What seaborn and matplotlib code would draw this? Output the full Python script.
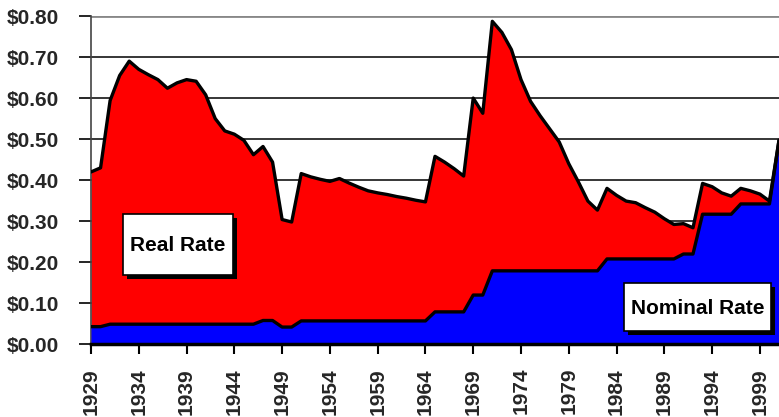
import matplotlib
matplotlib.use("Agg")
import matplotlib.pyplot as plt
from matplotlib.patches import Rectangle
import numpy as np
import pandas as pd
import seaborn as sns

years = list(range(1929, 2002))
real_rate = [0.420, 0.430, 0.594, 0.655, 0.690, 0.670, 0.657, 0.645, 0.624, 0.637,
             0.645, 0.641, 0.608, 0.550, 0.520, 0.512, 0.497, 0.462, 0.482, 0.444,
             0.304, 0.298, 0.416, 0.408, 0.402, 0.397, 0.404, 0.393, 0.383, 0.374,
             0.369, 0.365, 0.360, 0.356, 0.351, 0.347, 0.458, 0.444, 0.428, 0.410,
             0.600, 0.563, 0.787, 0.760, 0.718, 0.645, 0.592, 0.557, 0.525, 0.493,
             0.440, 0.396, 0.349, 0.327, 0.380, 0.363, 0.349, 0.345, 0.333, 0.322,
             0.306, 0.292, 0.294, 0.284, 0.392, 0.384, 0.369, 0.361, 0.380, 0.374,
             0.366, 0.349, 0.497]
nominal_rate = [0.043, 0.043] + [0.049] * 16 + [0.058, 0.058, 0.042, 0.042] + [0.057] * 14 \
    + [0.079] * 4 + [0.12, 0.12] + [0.179] * 12 + [0.208] * 8 + [0.22, 0.22] \
    + [0.317] * 4 + [0.342] * 4 + [0.497]
y_ticks = [0.0, 0.1, 0.2, 0.3, 0.4, 0.5, 0.6, 0.7, 0.8]
y_tick_labels = ["$0.00", "$0.10", "$0.20", "$0.30", "$0.40", "$0.50", "$0.60", "$0.70", "$0.80"]
x_ticks = list(range(1929, 2000, 5))
label_real = "Real Rate"
label_nominal = "Nominal Rate"

df = pd.DataFrame({"year": years, "real": real_rate, "nominal": nominal_rate})

sns.set_theme(style="white")
plt.rcParams["font.family"] = ["Liberation Sans", "DejaVu Sans"]
plt.rcParams["font.weight"] = "bold"

fig = plt.figure(figsize=(7.79, 4.17), dpi=100)
ax = fig.add_axes([91 / 779, 1 - 344.3 / 417, (779 - 91) / 779, (344.3 - 16) / 417])

ax.fill_between(df["year"], 0, df["real"], color="#ff0000", lw=0, zorder=2)
ax.fill_between(df["year"], 0, df["nominal"], color="#0000ff", lw=0, zorder=3)
sns.lineplot(data=df, x="year", y="real", color="black", lw=2.4, ax=ax, zorder=4)
sns.lineplot(data=df, x="year", y="nominal", color="black", lw=2.4, ax=ax, zorder=4)

ax.set_xlim(1929, 2001)
ax.set_ylim(0, 0.8)
ax.set_axisbelow(True)
for v in y_ticks[1:-1]:
    ax.axhline(v, color="black", lw=1.1, zorder=1)
ax.axhline(0.8, color="#888888", lw=2, zorder=1)

ax.set_yticks(y_ticks)
ax.set_yticklabels(y_tick_labels, fontsize=15, fontweight="bold")
ax.set_xticks(x_ticks)
ax.set_xticklabels([str(x) for x in x_ticks], rotation=90, fontsize=15, fontweight="bold")
ax.tick_params(axis="y", direction="out", length=9, width=1.2, color="black", pad=14, left=True)
ax.tick_params(axis="x", direction="out", length=7, width=1.5, color="black", pad=10, bottom=True)
ax.set_xlabel("")
ax.set_ylabel("")

for s in ["top", "right"]:
    ax.spines[s].set_visible(False)
ax.spines["left"].set_color("#444444")
ax.spines["left"].set_linewidth(1.2)
ax.spines["bottom"].set_color("black")
ax.spines["bottom"].set_linewidth(2.5)
ax.spines["bottom"].set_zorder(5)

def label_box(x0, y0, w, h, text):
    W, H = 779, 417
    off = 4
    fig.patches.append(Rectangle(((x0 + off) / W, 1 - (y0 + h + off) / H), w / W, h / H,
                                 transform=fig.transFigure, fc="black", ec="none", zorder=10))
    fig.patches.append(Rectangle((x0 / W, 1 - (y0 + h) / H), w / W, h / H,
                                 transform=fig.transFigure, fc="white", ec="black", lw=1.2, zorder=11))
    fig.text((x0 + w / 2) / W, 1 - (y0 + h / 2 + 1) / H, text, ha="center", va="center",
             fontsize=15, fontweight="bold", color="black", zorder=12)

label_box(123, 214, 110, 61, label_real)
label_box(624, 283, 147, 48, label_nominal)

fig.savefig("out.png", dpi=100)
